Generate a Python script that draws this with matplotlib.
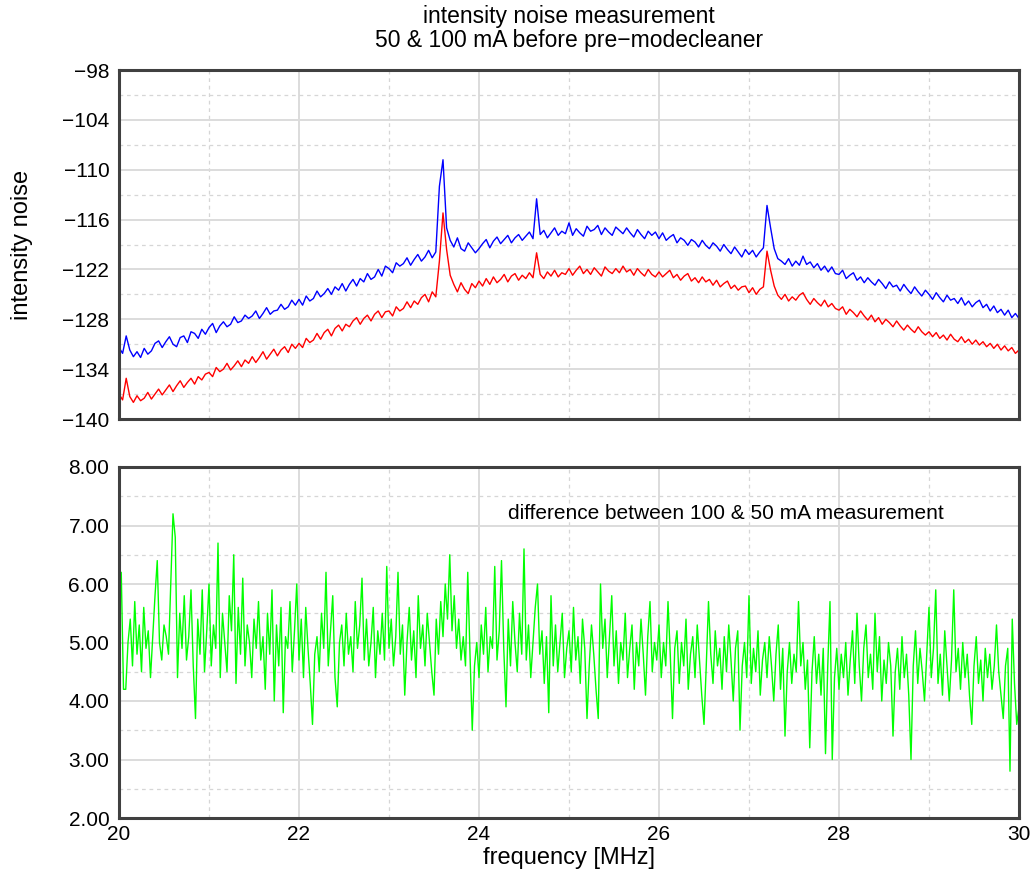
import numpy as np
import matplotlib
matplotlib.use('Agg')
import matplotlib.pyplot as plt
from matplotlib.ticker import MultipleLocator, FormatStrFormatter

plt.rcParams['font.family'] = ['Liberation Sans', 'DejaVu Sans']

# spectrum analyser traces, 20 - 30 MHz in 0.04 MHz steps
freq_top = np.linspace(20, 30, 251)

noise_100mA = [
    -131.4, -132.1, -130.0, -131.7, -132.5, -131.9, -132.6, -131.5, -132.2, -131.8, -130.9, -130.6, -131.4,
    -130.7, -130.1, -131.0, -131.3, -130.2, -130.0, -130.8, -129.5, -129.7, -130.3, -129.2, -129.8,
    -129.0, -128.5, -129.6, -128.8, -128.3, -128.9, -128.6, -127.7, -128.4, -128.2, -127.5, -127.9, -127.6,
    -127.0, -127.9, -127.3, -126.6, -127.4, -127.0, -126.9, -126.2, -126.8, -126.5, -125.7, -126.3,
    -125.6, -126.3, -125.2, -125.8, -125.5, -124.6, -125.3, -124.9, -124.3, -125.0, -124.1, -124.5, -123.7,
    -124.6, -123.8, -123.2, -124.0, -123.1, -123.5, -122.5, -123.2, -122.9, -122.0, -122.8, -121.6,
    -121.9, -122.4, -121.2, -121.6, -121.3, -120.6, -121.5, -120.8, -120.2, -121.0, -120.5, -119.7, -120.6,
    -119.9, -112.0, -108.8, -117.0, -118.5, -119.3, -118.2, -119.5, -119.8, -118.8, -119.4, -120.0,
    -119.5, -118.9, -118.4, -119.4, -118.6, -118.1, -118.9, -118.4, -117.9, -118.8, -118.2, -117.8, -118.5,
    -118.0, -117.5, -118.3, -113.5, -117.8, -117.3, -118.2, -117.6, -117.0, -117.9, -117.4, -117.7,
    -116.4, -117.9, -117.1, -117.6, -118.0, -116.8, -117.4, -117.2, -116.7, -117.8, -117.0, -117.5, -117.9,
    -116.9, -117.3, -117.7, -117.0, -117.6, -118.1, -117.2, -117.8, -118.3, -117.4, -117.9, -117.5,
    -118.3, -117.6, -118.5, -118.1, -117.8, -118.8, -118.2, -118.5, -119.1, -118.4, -118.7, -119.3, -118.5,
    -119.1, -119.5, -118.8, -119.2, -119.8, -119.0, -119.6, -120.1, -119.3, -119.9, -120.5, -119.6,
    -120.2, -119.7, -120.5, -119.9, -119.4, -114.3, -117.0, -119.5, -120.7, -121.0, -121.4, -120.7, -121.6,
    -121.0, -121.5, -120.4, -121.4, -121.1, -121.8, -121.3, -122.1, -121.6, -122.3, -121.7, -122.5,
    -122.6, -122.1, -123.1, -122.7, -122.4, -123.3, -122.9, -123.6, -123.0, -123.5, -123.9, -123.2, -123.7,
    -124.3, -123.5, -124.1, -123.9, -124.6, -123.8, -124.4, -124.9, -124.1, -124.7, -125.2, -124.5,
    -125.0, -125.6, -124.8, -125.4, -125.9, -125.1, -125.7, -125.5, -126.1, -125.4, -126.3, -125.8, -126.5,
    -126.0, -125.7, -126.6, -126.2, -127.0, -126.4, -127.2, -126.8, -127.5, -126.9, -127.8, -127.3,
    -127.9,
]

noise_50mA = [
    -137.0, -137.7, -135.1, -137.3, -138.0, -137.2, -137.8, -137.5, -136.8, -137.6, -137.0, -136.4, -137.1,
    -136.5, -135.9, -136.7, -136.0, -135.4, -136.2, -135.6, -135.1, -135.8, -134.9, -135.3, -134.6,
    -134.4, -134.9, -133.8, -134.3, -134.0, -133.3, -134.1, -133.6, -133.0, -133.7, -132.9, -133.3, -132.5,
    -133.2, -132.6, -131.9, -132.8, -132.2, -131.6, -132.4, -131.7, -131.3, -132.0, -131.0, -131.5,
    -130.9, -131.4, -130.3, -130.8, -130.5, -129.7, -130.4, -129.6, -129.2, -130.0, -129.1, -128.7, -129.4,
    -128.6, -128.9, -128.2, -127.8, -128.6, -127.9, -127.5, -128.2, -127.4, -127.0, -127.8, -127.1,
    -127.0, -127.6, -126.5, -127.0, -126.7, -125.9, -126.6, -125.8, -126.2, -125.4, -125.0, -125.9, -124.7,
    -125.3, -121.0, -115.2, -119.6, -122.7, -123.8, -124.7, -123.6, -124.4, -124.9, -123.7, -124.2,
    -123.4, -124.0, -123.1, -123.8, -122.9, -123.6, -123.2, -122.6, -123.5, -122.8, -122.5, -123.3, -122.7,
    -123.1, -122.4, -123.0, -120.0, -122.6, -123.1, -122.3, -122.8, -122.1, -122.9, -122.4, -122.6,
    -121.9, -122.7, -122.1, -121.6, -122.5, -122.0, -122.6, -121.8, -122.3, -122.8, -121.7, -122.2, -122.5,
    -121.9, -122.4, -121.6, -122.3, -122.0, -122.7, -121.9, -122.4, -122.8, -122.0, -122.6, -122.9,
    -122.3, -122.9, -122.5, -122.1, -123.0, -122.6, -123.3, -122.8, -122.5, -123.4, -123.0, -123.6, -122.9,
    -123.5, -123.2, -123.9, -123.3, -124.1, -123.7, -123.4, -124.3, -123.9, -124.5, -124.1, -124.0,
    -124.8, -124.2, -125.0, -124.4, -124.1, -119.8, -122.1, -124.0, -125.1, -125.6, -125.0, -125.8, -125.3,
    -125.7, -125.1, -124.8, -125.6, -126.2, -125.5, -126.0, -126.4, -125.7, -126.5, -126.1, -126.7,
    -126.9, -126.5, -127.4, -126.8, -127.2, -127.7, -127.0, -127.6, -128.1, -127.5, -128.3, -127.8, -128.6,
    -128.0, -128.4, -128.9, -128.2, -128.8, -129.3, -128.7, -129.2, -129.6, -128.9, -129.5, -129.9,
    -129.5, -130.1, -129.6, -130.3, -129.9, -130.5, -129.8, -130.4, -130.7, -130.1, -130.8, -130.4, -131.0,
    -130.5, -131.1, -130.7, -131.3, -130.9, -131.5, -131.0, -131.7, -131.2, -131.8, -131.4, -132.1,
    -131.7,
]

# difference 100 mA - 50 mA, 0.025 MHz steps
freq_diff = np.linspace(20, 30, 401)

diff_db = [
    5.6, 6.2, 4.2, 4.2, 5.0, 5.4, 4.6, 5.7, 4.8, 5.3, 4.5, 5.6, 4.9, 5.2, 4.4, 5.1, 5.8, 6.4, 5.0, 4.7,
    5.3, 5.1, 4.8, 6.0, 7.2, 6.8, 4.4, 5.5, 4.9, 5.8, 4.7, 5.1, 5.9, 4.6, 3.7, 5.4, 4.8, 5.9, 4.5, 5.2,
    6.0, 4.6, 5.3, 4.9, 6.7, 4.4, 5.5, 5.0, 4.5, 5.8, 5.2, 6.5, 4.3, 5.6, 4.8, 6.1, 4.6, 5.3, 5.0, 4.4,
    5.4, 4.9, 5.7, 4.7, 5.1, 4.2, 5.5, 4.8, 5.9, 4.0, 5.3, 4.6, 5.6, 3.8, 5.1, 4.9, 5.7, 4.5, 5.2, 6.0,
    4.7, 5.4, 4.4, 5.6, 4.9, 4.3, 3.6, 4.8, 5.1, 4.5, 5.5, 4.9, 6.2, 4.6, 5.2, 5.8, 4.4, 3.9, 5.0, 5.3,
    4.6, 5.5, 4.8, 5.1, 4.5, 5.7, 4.9, 5.3, 6.1, 4.7, 5.4, 4.6, 5.0, 5.6, 4.4, 5.2, 4.8, 5.5, 4.7, 6.3,
    4.9, 5.4, 4.6, 5.1, 6.2, 4.8, 5.3, 4.1, 5.0, 5.6, 4.7, 5.2, 4.4, 5.8, 4.9, 5.3, 4.6, 5.5, 5.0, 4.5,
    4.1, 5.4, 4.8, 5.7, 5.1, 6.0, 5.4, 6.5, 5.2, 5.8, 4.9, 5.4, 4.7, 5.1, 4.6, 6.2, 4.8, 3.5, 4.6, 5.0,
    4.4, 5.3, 4.8, 5.6, 4.5, 5.1, 4.9, 6.3, 4.7, 5.2, 6.4, 4.9, 3.9, 5.4, 4.6, 5.7, 5.0, 4.5, 5.5, 4.8,
    6.6, 4.7, 5.3, 4.4, 5.0, 5.6, 6.0, 4.8, 5.2, 4.3, 5.1, 3.8, 5.8, 4.6, 5.3, 4.5, 5.0, 5.5, 4.4, 4.9,
    5.2, 4.5, 5.6, 4.7, 5.1, 4.3, 5.4, 4.9, 3.7, 4.6, 5.3, 4.8, 4.2, 3.7, 6.0, 4.9, 5.4, 4.4, 5.1, 5.8,
    4.6, 5.2, 4.3, 5.0, 4.7, 5.5, 4.4, 4.9, 5.3, 4.2, 5.0, 4.6, 5.4, 4.8, 4.1, 5.1, 5.7, 4.5, 5.0, 4.7,
    5.3, 4.4, 5.0, 4.6, 5.7, 4.8, 3.7, 4.9, 5.2, 4.3, 5.0, 4.6, 5.4, 4.2, 4.8, 5.1, 4.4, 5.3, 4.7, 4.1,
    3.6, 4.6, 5.7, 4.8, 4.3, 5.2, 4.6, 4.9, 4.2, 5.1, 4.5, 5.3, 4.7, 4.0, 4.9, 5.2, 3.5, 4.6, 5.0, 4.4,
    5.8, 4.3, 4.9, 4.5, 5.2, 4.1, 4.7, 5.0, 4.4, 5.1, 4.6, 4.0, 4.8, 5.3, 4.2, 4.9, 3.4, 4.5, 5.0, 4.3,
    4.8, 4.5, 5.7, 4.6, 5.0, 4.2, 4.7, 3.2, 4.5, 5.1, 4.3, 4.8, 4.1, 4.9, 3.1, 4.6, 5.7, 3.0, 4.4, 4.9,
    4.2, 4.8, 4.4, 5.0, 4.1, 4.7, 5.2, 4.3, 5.5, 4.6, 4.0, 4.9, 5.3, 4.4, 4.8, 4.2, 5.5, 4.5, 5.1, 4.0,
    4.7, 4.3, 5.0, 4.6, 3.4, 4.5, 4.9, 4.2, 5.1, 4.4, 4.8, 4.1, 3.0, 4.6, 5.2, 4.3, 4.9, 4.5, 4.0, 4.8,
    5.6, 4.4, 4.9, 5.9, 4.3, 4.8, 4.1, 5.2, 4.6, 4.0, 4.7, 5.9, 4.5, 4.9, 4.2, 5.0, 4.4, 4.8, 4.1, 3.6,
    4.6, 5.1, 4.3, 4.7, 4.0, 4.9, 4.4, 4.8, 4.2, 4.6, 5.3, 4.5, 4.1, 3.7, 4.6, 4.9, 2.8, 5.4, 4.3, 3.6,
    3.9,
]

W, H = 1032, 875
fig = plt.figure(figsize=(W / 100, H / 100), dpi=100)
ax1 = fig.add_axes([119 / W, 1 - 419 / H, 900 / W, 349 / H])
ax2 = fig.add_axes([119 / W, 1 - 818 / H, 900 / W, 351 / H])


def style(ax):
    ax.set_xlim(20, 30)
    ax.xaxis.set_major_locator(MultipleLocator(2))
    ax.xaxis.set_minor_locator(MultipleLocator(1))
    ax.grid(which='major', color='#dcdcdc', lw=1.4, ls='-')
    ax.grid(which='minor', color='#d6d6d6', lw=0.9, ls=(0, (3, 3)))
    ax.set_axisbelow(True)
    ax.tick_params(which='both', length=0, labelsize=15, pad=7)
    for s in ax.spines.values():
        s.set_linewidth(2.2)
        s.set_color('#404040')


style(ax1)
ax1.plot(freq_top, noise_100mA, color='#0000ff', lw=1.0)
ax1.plot(freq_top, noise_50mA, color='#ff0000', lw=1.0)
ax1.set_ylim(-140, -98)
ax1.set_yticks(np.arange(-140, -97, 6))
ax1.set_yticks(np.arange(-137, -98, 6), minor=True)
ax1.tick_params(axis='x', labelbottom=False)

style(ax2)
ax2.plot(freq_diff, diff_db, color='#00ff00', lw=1.0)
ax2.set_ylim(2, 8)
ax2.yaxis.set_major_locator(MultipleLocator(1))
ax2.yaxis.set_minor_locator(MultipleLocator(0.5))
ax2.yaxis.set_major_formatter(FormatStrFormatter('%.2f'))
ax2.tick_params(axis='x', pad=5)
ax2.text(24.32, 7.21, 'difference between 100 & 50 mA measurement',
         fontsize=15, ha='left', va='center')

fig.text(569 / W, 1 - 17 / H, 'intensity noise measurement', fontsize=16.5, ha='center', va='center')
fig.text(569 / W, 1 - 40 / H, '50 & 100 mA before pre\u2212modecleaner', fontsize=16.5, ha='center', va='center')
fig.text(22 / W, 1 - 245 / H, 'intensity noise', fontsize=17, rotation=90, ha='center', va='center')
fig.text(569 / W, 1 - 858 / H, 'frequency [MHz]', fontsize=17, ha='center', va='center')

fig.savefig('out.png', dpi=100)
